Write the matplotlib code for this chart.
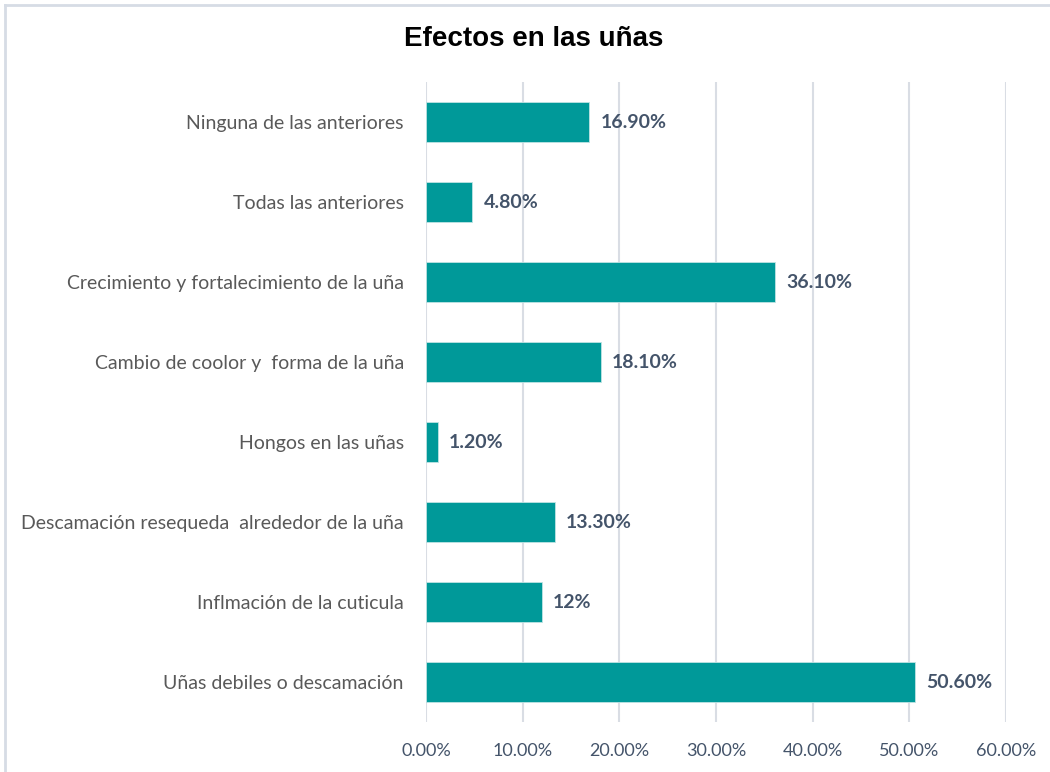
import matplotlib
matplotlib.use("Agg")
import matplotlib.pyplot as plt
from matplotlib.lines import Line2D
from matplotlib.ticker import FuncFormatter

# categories top to bottom, as in the chart
categories = [
    "Ninguna de las anteriores",
    "Todas las anteriores",
    "Crecimiento y fortalecimiento de la uña",
    "Cambio de coolor y  forma de la uña",
    "Hongos en las uñas",
    "Descamación resequeda  alrededor de la uña",
    "Inflmación de la cuticula",
    "Uñas debiles o descamación",
]
values = [16.9, 4.8, 36.1, 18.1, 1.2, 13.3, 12.0, 50.6]
value_labels = ["16.90%", "4.80%", "36.10%", "18.10%", "1.20%", "13.30%", "12%", "50.60%"]
xticks = [0, 10, 20, 30, 40, 50, 60]

BAR = "#009999"
SLATE = "#44546a"
GRID = "#d9dde4"

plt.rcParams["font.family"] = ["Lato", "DejaVu Sans"]

fig = plt.figure(figsize=(10.5, 7.72), dpi=100)
ax = fig.add_axes([426 / 1050, 1 - 722 / 772, 580 / 1050, 640 / 772])

ypos = list(range(len(categories)))[::-1]
ax.barh(ypos, values, height=0.5, color=BAR, edgecolor="#bfe3e3", linewidth=0.6, zorder=3)

for y, v, lab in zip(ypos, values, value_labels):
    ax.annotate(lab, (v, y), xytext=(8, 0), textcoords="offset points",
                ha="left", va="center", fontsize=14, fontweight="bold",
                color=SLATE)

ax.set_xlim(0, 60)
ax.set_ylim(-0.5, len(categories) - 0.5)
ax.set_xticks(xticks)
ax.xaxis.set_major_formatter(FuncFormatter(lambda x, _: f"{x:.2f}%"))
ax.set_yticks(ypos)
ax.set_yticklabels(categories)
ax.tick_params(axis="y", length=0, pad=16, labelsize=14, labelcolor="#595959")
ax.tick_params(axis="x", length=0, pad=15, labelsize=13, labelcolor=SLATE)
ax.grid(axis="x", color=GRID, linewidth=1.5, zorder=0)
for s in ax.spines.values():
    s.set_visible(False)

fig.text(534 / 1050, 1 - 39 / 772, "Efectos en las uñas", ha="center", va="center",
         fontsize=20, fontweight="bold", family=["Liberation Sans", "DejaVu Sans"])

# light chart-area frame (left and top edges visible)
fig.add_artist(Line2D([5 / 1050, 5 / 1050], [0, 1 - 5 / 772], color="#d6dce5",
                      linewidth=2, transform=fig.transFigure))
fig.add_artist(Line2D([5 / 1050, 1], [1 - 5 / 772, 1 - 5 / 772], color="#d6dce5",
                      linewidth=2, transform=fig.transFigure))

fig.savefig("out.png", dpi=100)
